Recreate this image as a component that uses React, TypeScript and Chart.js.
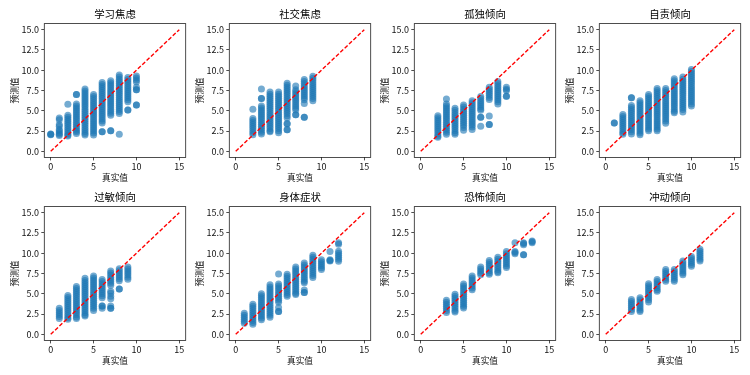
import { useEffect, useRef } from 'react';
import { Chart, registerables } from 'chart.js';

Chart.register(...registerables);

const titles = ['学习焦虑', '社交焦虑', '孤独倾向', '自责倾向', '过敏倾向', '身体症状', '恐怖倾向', '冲动倾向'];
const xTicks = [0, 5, 10, 15];
const yTicks = [0, 2.5, 5, 7.5, 10, 12.5, 15];
const refLine = [0, 15];
const xLabel = '真实值';
const yLabel = '预测值';

// [true value, predicted values]
const xueXi: [number, number[]][] = [
  [0, [2.15, 2.05, 2.1]],
  [1, [4.1, 3.9, 3.3, 3.1, 2.7, 2.5, 2.3, 2.1, 1.95]],
  [2, [5.8, 4.45, 4.2, 3.95, 3.7, 3.45, 3.2, 2.95, 2.7, 2.45, 2.2, 2.0, 1.9]],
  [3, [7.0, 7.0, 5.85, 5.6, 5.35, 5.1, 4.85, 4.6, 4.35, 4.1, 3.85, 3.6, 3.35, 3.1, 2.85, 2.6, 2.4, 2.2]],
  [4, [7.7, 7.45, 7.2, 6.95, 6.7, 6.45, 6.2, 5.95, 5.7, 5.45, 5.2, 4.95, 4.7, 4.45, 4.2, 3.95, 3.7, 3.45, 3.2, 2.95, 2.7, 2.45, 2.2, 2.0]],
  [5, [7.0, 6.75, 6.5, 6.25, 6.0, 5.75, 5.5, 5.25, 5.0, 4.75, 4.5, 4.25, 4.0, 3.75, 3.5, 3.25, 3.0, 2.75, 2.5, 2.25, 2.0]],
  [6, [8.5, 8.25, 8.0, 7.75, 7.5, 7.25, 7.0, 6.75, 6.5, 6.25, 6.0, 5.75, 5.5, 5.25, 5.0, 4.75, 4.5, 4.25, 4.0, 3.75, 3.5, 2.4, 2.4]],
  [7, [8.7, 8.45, 8.2, 7.95, 7.7, 7.45, 7.2, 6.95, 6.7, 6.45, 6.2, 5.95, 5.7, 5.45, 5.2, 4.95, 4.7, 4.45, 2.55, 2.55]],
  [8, [9.4, 9.15, 8.9, 8.65, 8.4, 8.15, 7.9, 7.65, 7.4, 7.15, 6.9, 6.65, 6.4, 6.15, 5.9, 5.65, 5.4, 5.15, 4.9, 4.65, 2.1]],
  [9, [9.1, 8.85, 8.6, 8.35, 8.1, 7.85, 7.6, 7.35, 7.1, 6.85, 6.6, 6.35, 6.1, 5.1, 5.1]],
  [10, [9.3, 9.05, 8.8, 8.55, 7.9, 7.6, 7.6, 5.7, 5.7]],
];

const sheJiao: [number, number[]][] = [
  [2, [5.2, 4.05, 3.8, 3.55, 3.3, 3.05, 2.8, 2.55, 2.3, 2.05]],
  [3, [7.7, 6.5, 6.5, 5.6, 5.35, 5.1, 4.85, 4.6, 4.35, 4.1, 3.85, 3.6, 3.35, 3.1, 2.85, 2.6, 2.35, 2.15]],
  [4, [7.3, 7.05, 6.8, 6.55, 6.3, 6.05, 5.8, 5.55, 5.3, 5.05, 4.8, 4.55, 4.3, 4.05, 3.8, 3.55, 3.3, 3.05, 2.8, 2.55, 2.4]],
  [5, [7.3, 7.05, 6.8, 6.55, 6.3, 6.05, 5.8, 5.55, 5.3, 5.05, 4.8, 4.55, 4.3, 4.05, 3.8, 3.55, 3.3, 3.05, 2.8, 2.55, 2.3]],
  [6, [8.4, 8.15, 7.9, 7.65, 7.4, 7.15, 6.9, 6.65, 6.4, 6.15, 5.9, 5.65, 5.4, 5.15, 4.9, 4.65, 4.4, 4.1, 3.4, 3.4, 2.65, 2.65]],
  [7, [8.05, 7.6, 7.35, 7.1, 6.85, 6.6, 6.35, 6.1, 5.85, 5.6, 5.35, 5.1, 4.5, 4.5]],
  [8, [8.85, 8.6, 8.35, 8.1, 7.85, 7.6, 7.35, 7.1, 6.85, 6.6, 6.35, 5.9, 4.2, 4.2]],
  [9, [9.25, 9.0, 8.75, 8.5, 8.25, 8.0, 7.75, 7.5, 7.25, 7.0, 6.75, 6.5, 6.25]],
];

const guDu: [number, number[]][] = [
  [2, [4.4, 4.15, 3.9, 3.65, 3.4, 3.15, 2.9, 2.65, 2.4, 2.15, 1.9, 1.75]],
  [3, [6.45, 5.85, 5.6, 5.35, 5.1, 4.85, 4.6, 4.35, 4.1, 3.85, 3.6, 3.35, 3.1, 2.85, 2.6, 2.35, 2.1]],
  [4, [5.3, 5.05, 4.8, 4.55, 4.3, 4.05, 3.8, 3.55, 3.3, 3.05, 2.8, 2.55, 2.3, 2.1]],
  [5, [5.7, 5.45, 5.2, 4.95, 4.7, 4.45, 4.2, 3.95, 3.7, 3.45, 3.2, 2.95, 2.6]],
  [6, [6.25, 6.0, 5.75, 5.5, 5.25, 5.0, 4.75, 4.5, 4.25, 4.0, 3.75, 3.5, 3.25, 3.0, 2.7]],
  [7, [6.75, 6.5, 6.25, 6.0, 5.75, 5.5, 5.25, 5.05, 4.2, 4.2, 3.1]],
  [8, [7.9, 7.65, 7.4, 7.15, 6.9, 6.65, 6.4, 4.35, 3.3, 3.3]],
  [9, [8.6, 8.35, 8.1, 7.85, 7.6, 7.35, 7.1, 6.85, 6.6, 6.35, 6.1, 5.85]],
  [10, [7.9, 7.65, 7.5, 6.8, 6.8]],
];

const ziZe: [number, number[]][] = [
  [1, [3.5, 3.5]],
  [2, [4.55, 4.3, 4.05, 3.8, 3.55, 3.3, 3.05, 2.8, 2.55, 2.3, 2.1]],
  [3, [6.6, 6.6, 5.65, 5.4, 5.15, 4.9, 4.65, 4.4, 4.15, 3.9, 3.65, 3.4, 3.15, 2.9, 2.65, 2.4, 2.15]],
  [4, [6.25, 6.0, 5.75, 5.5, 5.25, 5.0, 4.75, 4.5, 4.25, 4.0, 3.75, 3.5, 3.25, 3.0, 2.75, 2.5, 2.25, 2.05]],
  [5, [7.0, 6.75, 6.5, 6.25, 6.0, 5.75, 5.5, 5.25, 5.0, 4.75, 4.5, 4.25, 4.0, 3.75, 3.5, 3.25, 3.0, 2.75, 2.55]],
  [6, [7.75, 7.5, 7.25, 7.0, 6.75, 6.5, 6.25, 6.0, 5.75, 5.5, 5.25, 5.0, 4.75, 4.5, 4.25, 4.0, 3.75, 3.5, 3.25, 3.0, 2.75, 2.55]],
  [7, [7.75, 7.5, 7.25, 7.0, 6.75, 6.5, 6.25, 6.0, 5.75, 5.5, 5.25, 5.0, 4.75, 4.5, 4.25, 4.0, 3.75, 3.45]],
  [8, [8.95, 8.7, 8.45, 8.2, 7.95, 7.7, 7.45, 7.2, 6.95, 6.7, 6.45, 6.2, 5.95, 5.7, 5.45, 5.2, 4.95, 4.75]],
  [9, [9.15, 8.9, 8.65, 8.4, 8.15, 7.9, 7.65, 7.4, 7.15, 6.9, 6.65, 6.4, 6.15, 5.9, 5.65, 5.4, 5.15, 4.85]],
  [10, [10.1, 9.85, 9.6, 9.35, 9.1, 8.85, 8.6, 8.35, 8.1, 7.85, 7.6, 7.35, 7.1, 6.85, 6.6, 6.35, 6.1, 5.85, 5.6]],
];

const guoMin: [number, number[]][] = [
  [1, [3.2, 2.95, 2.7, 2.45, 2.2, 1.95]],
  [2, [4.8, 4.55, 4.3, 4.05, 3.8, 3.55, 3.3, 3.05, 2.8, 2.55, 2.3, 2.05, 1.85]],
  [3, [5.9, 5.65, 5.4, 5.15, 4.9, 4.65, 4.4, 4.15, 3.9, 3.65, 3.4, 3.15, 2.9, 2.65, 2.4, 2.15, 1.95]],
  [4, [6.9, 6.65, 6.4, 6.15, 5.9, 5.65, 5.4, 5.15, 4.9, 4.65, 4.4, 4.15, 3.9, 3.65, 3.4, 3.15, 2.9, 2.65, 2.4, 2.25]],
  [5, [7.2, 6.95, 6.7, 6.45, 6.2, 5.95, 5.7, 5.45, 5.2, 4.95, 4.7, 4.45, 4.2, 3.95, 3.7, 3.45, 3.2, 2.95]],
  [6, [6.75, 6.5, 6.25, 6.0, 5.75, 5.5, 5.25, 5.0, 4.75, 4.5, 3.5, 3.5, 3.2]],
  [7, [7.8, 7.55, 7.3, 7.05, 6.8, 6.55, 6.3, 6.05, 5.3, 5.05, 4.7, 4.4, 3.5, 3.2, 3.2]],
  [8, [8.1, 7.85, 7.6, 7.35, 7.1, 6.85, 6.6, 5.6, 5.6]],
  [9, [8.3, 8.05, 7.8, 7.55, 7.3, 7.05, 6.8]],
];

const shenTi: [number, number[]][] = [
  [1, [2.6, 2.35, 2.1, 1.85, 1.6, 1.35]],
  [2, [3.7, 3.45, 3.2, 2.95, 2.7, 2.45, 2.2, 1.95, 1.7, 1.45, 1.25]],
  [3, [5.0, 4.75, 4.5, 4.25, 4.0, 3.75, 3.5, 3.25, 3.0, 2.75, 2.5, 2.25, 2.0, 1.8]],
  [4, [6.1, 5.85, 5.6, 5.35, 5.1, 4.85, 4.6, 4.35, 4.1, 3.85, 3.6, 3.35, 3.1, 2.85, 2.6, 2.35, 2.1]],
  [5, [7.45, 6.2, 5.95, 5.7, 5.45, 5.2, 4.95, 4.7, 4.45, 4.2, 3.95, 3.3, 2.8, 2.8]],
  [6, [7.4, 7.15, 6.9, 6.65, 6.4, 6.15, 5.9, 5.65, 5.4, 5.15, 4.9, 4.7]],
  [7, [8.3, 8.05, 7.8, 7.55, 7.3, 7.05, 6.8, 6.55, 6.3, 6.05, 5.8, 5.55, 5.3, 5.05, 4.9]],
  [8, [8.8, 8.55, 8.3, 8.05, 7.8, 7.55, 7.3, 7.05, 6.8, 6.55, 6.35, 5.45, 5.15, 5.15]],
  [9, [9.75, 9.5, 9.25, 9.0, 8.75, 8.5, 8.25, 8.0, 7.75, 7.5, 7.25, 7.0]],
  [10, [9.2, 8.95, 8.7, 8.45, 8.2, 8.0]],
  [11, [10.2, 9.2, 9.05, 9.1]],
  [12, [11.3, 11.1, 10.25, 10.0, 9.75, 9.5, 9.25, 9.0]],
];

const kongBu: [number, number[]][] = [
  [3, [4.2, 3.95, 3.7, 3.45, 3.2, 2.95, 2.7]],
  [4, [4.95, 4.7, 4.45, 4.2, 3.95, 3.7, 3.45, 3.2, 2.95, 2.75]],
  [5, [6.2, 5.95, 5.7, 5.45, 5.2, 4.95, 4.7, 4.45, 4.2, 3.95, 3.7, 3.45, 3.25]],
  [6, [7.2, 6.95, 6.7, 6.45, 6.2, 5.95, 5.7, 5.5]],
  [7, [8.3, 8.05, 7.8, 7.55, 7.35]],
  [8, [9.1, 8.85, 8.6, 8.35, 8.1, 7.85, 7.6, 7.4]],
  [9, [9.5, 9.25, 9.0, 8.75, 8.5, 8.25, 8.0, 7.75, 7.6]],
  [10, [10.2, 9.95, 9.7, 9.45, 9.2, 8.95, 8.7, 8.45, 8.25]],
  [11, [11.3, 10.2, 9.95, 10.1]],
  [12, [11.3, 11.05, 11.2, 9.8, 9.8]],
  [13, [11.5, 11.3, 11.4]],
];

const chongDong: [number, number[]][] = [
  [3, [4.3, 4.05, 3.8, 3.55, 3.3, 3.05, 2.8]],
  [4, [4.5, 4.25, 4.0, 3.75, 3.5, 3.25, 3.0, 2.8]],
  [5, [6.25, 6.0, 5.75, 5.5, 5.25, 5.0, 4.75, 4.5, 4.25, 4.0]],
  [6, [6.75, 6.5, 6.25, 6.0, 5.75, 5.5, 5.3]],
  [7, [8.0, 7.75, 7.5, 7.25, 7.0, 6.75, 6.55]],
  [8, [8.0, 7.75, 7.5, 7.25, 7.0, 6.75, 6.55]],
  [9, [9.05, 8.8, 8.55, 8.3, 8.05, 7.8, 7.55, 7.35]],
  [10, [9.6, 9.35, 9.1, 8.85, 8.6, 8.4]],
  [11, [10.5, 10.25, 10.0, 9.75, 9.5, 9.25, 9.05]],
];

const panels = [xueXi, sheJiao, guDu, ziZe, guoMin, shenTi, kongBu, chongDong];

const FONT = "'Noto Sans CJK SC', 'Noto Sans', sans-serif";
const CANVAS_W = 200;
const CANVAS_H = 185;
const AREA_LEFT = 44.3;
const AREA_W = 141.4;
const AREA_H = 133.8;
const X_AXIS_H = 27;

function Panel({ index }: { index: number }) {
  const ref = useRef<HTMLCanvasElement | null>(null);
  const row = Math.floor(index / 4);
  const col = index % 4;
  const areaTop = row === 0 ? 23.6 : 21.6;

  useEffect(() => {
    if (!ref.current) return;
    const points = panels[index].flatMap(([x, ys]) => ys.map((y) => ({ x, y })));
    const title = titles[index];
    const framePlugin = {
      id: 'frame' + index,
      afterDraw(chart: any) {
        const { ctx, chartArea } = chart;
        const { left, top, right, bottom } = chartArea;
        ctx.save();
        ctx.strokeStyle = '#222';
        ctx.lineWidth = 0.8;
        ctx.strokeRect(left, top, right - left, bottom - top);
        ctx.fillStyle = '#000';
        ctx.font = `10.4px ${FONT}`;
        ctx.textAlign = 'center';
        ctx.textBaseline = 'middle';
        ctx.fillText(title, (left + right) / 2, top - 9.3);
        ctx.restore();
      },
    };
    const chart = new Chart(ref.current, {
      type: 'scatter',
      data: {
        datasets: [
          {
            type: 'line',
            data: refLine.map((v) => ({ x: v, y: v })),
            borderColor: '#ff0000',
            borderWidth: 1.4,
            borderDash: [4, 2],
            pointRadius: 0,
            fill: false,
            tension: 0,
          } as any,
          {
            data: points,
            backgroundColor: 'rgba(31,119,180,0.62)',
            borderWidth: 0,
            pointRadius: 3.5,
            pointHoverRadius: 3.5,
          },
        ],
      },
      options: {
        animation: false,
        responsive: false,
        devicePixelRatio: 1,
        events: [],
        layout: {
          padding: {
            top: areaTop,
            left: 0,
            right: CANVAS_W - AREA_LEFT - AREA_W,
            bottom: CANVAS_H - areaTop - AREA_H - X_AXIS_H,
          },
        },
        plugins: {
          legend: { display: false },
          tooltip: { enabled: false },
          title: { display: false },
        },
        scales: {
          x: {
            type: 'linear',
            min: -0.75,
            max: 15.75,
            afterBuildTicks: (s: any) => {
              s.ticks = xTicks.map((v) => ({ value: v }));
            },
            afterFit: (s: any) => {
              s.height = X_AXIS_H;
            },
            ticks: {
              callback: (v: any) => String(v),
              font: { family: FONT, size: 9 },
              color: '#111',
              padding: 0.3,
              maxRotation: 0,
              autoSkip: false,
            },
            grid: {
              display: true,
              drawOnChartArea: false,
              drawTicks: true,
              tickLength: 3,
              color: '#222',
              lineWidth: 0.8,
            },
            border: { display: false },
            title: {
              display: true,
              text: xLabel,
              font: { family: FONT, size: 8.7 },
              color: '#111',
              padding: { top: 0, bottom: 1.4 },
            },
          },
          y: {
            type: 'linear',
            min: -0.75,
            max: 15.75,
            afterBuildTicks: (s: any) => {
              s.ticks = yTicks.map((v) => ({ value: v }));
            },
            afterFit: (s: any) => {
              s.width = AREA_LEFT;
            },
            ticks: {
              callback: (v: any) => Number(v).toFixed(1),
              font: { family: FONT, size: 9 },
              color: '#111',
              padding: 2.3,
              autoSkip: false,
            },
            grid: {
              display: true,
              drawOnChartArea: false,
              drawTicks: true,
              tickLength: 3,
              color: '#222',
              lineWidth: 0.8,
            },
            border: { display: false },
            title: {
              display: true,
              text: yLabel,
              font: { family: FONT, size: 8.7 },
              color: '#111',
              padding: { top: 9.6, bottom: 0 },
            },
          },
        },
      } as any,
      plugins: [framePlugin],
    });
    return () => chart.destroy();
  }, [index]);

  return (
    <canvas
      ref={ref}
      width={CANVAS_W}
      height={CANVAS_H}
      style={{
        position: 'absolute',
        left: col * 185,
        top: row * 185,
        width: CANVAS_W,
        height: CANVAS_H,
      }}
    />
  );
}

export default function App() {
  return (
    <div
      style={{
        position: 'absolute',
        left: 0,
        top: 0,
        width: 750,
        height: 375,
        background: '#fff',
        overflow: 'hidden',
      }}
    >
      {titles.map((_, i) => (
        <Panel key={i} index={i} />
      ))}
    </div>
  );
}
